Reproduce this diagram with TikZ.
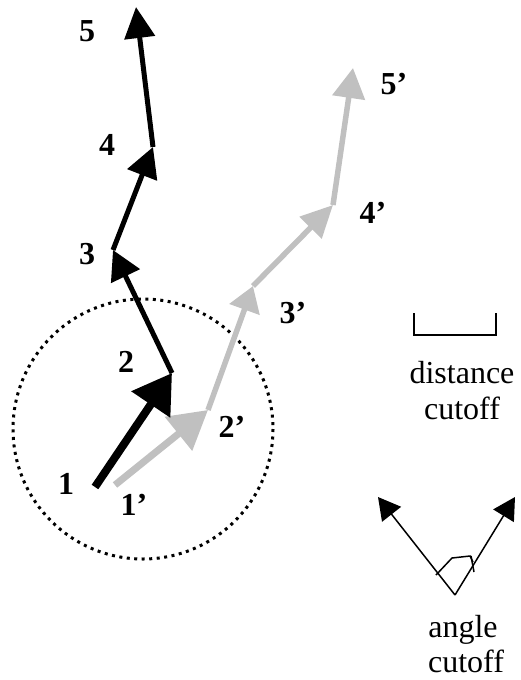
\documentclass[tikz,border=0pt]{standalone}
\usepackage{fontspec}
\setmainfont{Liberation Serif}
\usetikzlibrary{arrows.meta}
\definecolor{lightgrey}{RGB}{192,192,192}
\tikzset{
  lbl/.style={inner sep=0pt, font=\fontsize{32}{38}\selectfont\bfseries},
  word/.style={inner sep=0pt, anchor=base, font=\fontsize{32}{38}\selectfont},
  blk/.style={draw=black, line width=5pt},
  gry/.style={draw=lightgrey, line width=5.5pt},
  thinline/.style={draw=black, line width=1.5pt},
}
\begin{document}
\begin{tikzpicture}[x=1pt,y=-1pt]
\useasboundingbox (0,0) rectangle (520,680);
% black trajectory points
\coordinate (p1) at (95,487);
\coordinate (p2) at (172,373);
\coordinate (p3) at (113,250);
\coordinate (p4) at (153,147);
\coordinate (p5) at (136,7);
% grey trajectory points
\coordinate (q1) at (115,485);
\coordinate (q2) at (208,410);
\coordinate (q3) at (253,286);
\coordinate (q4) at (333,205);
\coordinate (q5) at (353,68);
% circle
\coordinate (cc) at (143,429);
\draw[line width=3pt, dash pattern=on 3pt off 4.5pt] (cc) circle[radius=130];
% grey path
\draw[gry, line width=7pt, -{Triangle[length=38pt,width=42pt]}] (q1) -- (q2);
\draw[gry, -{Triangle[length=25pt,width=31pt]}] (q2) -- (q3);
\draw[gry, -{Triangle[length=32pt,width=30pt]}] (q3) -- (q4);
\draw[gry, -{Triangle[length=30pt,width=32pt]}] (q4) -- (q5);
% black path
\draw[blk, line width=8pt, -{Triangle[length=38pt,width=45pt]}] (p1) -- (p2);
\draw[blk, -{Triangle[length=29pt,width=31pt]}] (p2) -- (p3);
\draw[blk, -{Triangle[length=30pt,width=31pt]}] (p3) -- (p4);
\draw[blk, -{Triangle[length=31pt,width=30pt]}] (p4) -- (p5);
% labels
\node[lbl] (l1) at (66,484) {1};
\node[lbl] (l2) at (126,362) {2};
\node[lbl] (l3) at (87,254) {3};
\node[lbl] (l4) at (107,145) {4};
\node[lbl] (l5) at (87,31) {5};
\node[lbl] (m1) at (134,505) {1’};
\node[lbl] (m2) at (232,427) {2’};
\node[lbl] (m3) at (293,313) {3’};
\node[lbl] (m4) at (373,213) {4’};
\node[lbl] (m5) at (394,84) {5’};
% distance cutoff
\coordinate (b1) at (414,313);
\coordinate (b2) at (414,335);
\coordinate (b3) at (496,335);
\coordinate (b4) at (496,313);
\draw[thinline] (b1) -- (b2) -- (b3) -- (b4);
\node[word] (dist) at (462,383) {distance};
\node[word] (dcut) at (462,419) {cutoff};
% angle cutoff
\coordinate (av) at (455,595);
\coordinate (al) at (378,497);
\coordinate (ar) at (515,497);
\draw[thinline, -{Triangle[length=22pt,width=24pt]}] (av) -- (al);
\draw[thinline, -{Triangle[length=22pt,width=24pt]}] (av) -- (ar);
\coordinate (ka) at (436,575);
\coordinate (kb) at (452,558);
\coordinate (kc) at (470,556);
\coordinate (kd) at (473,562);
\draw[thinline] (ka) -- (kb) -- (kc) -- (kd);
\coordinate (te) at (471,556);
\coordinate (tf) at (474,572);
\draw[thinline] (te) -- (tf);
\node[word] (ang) at (463,637) {angle};
\node[word] (acut) at (466,672) {cutoff};
\end{tikzpicture}
\end{document}
